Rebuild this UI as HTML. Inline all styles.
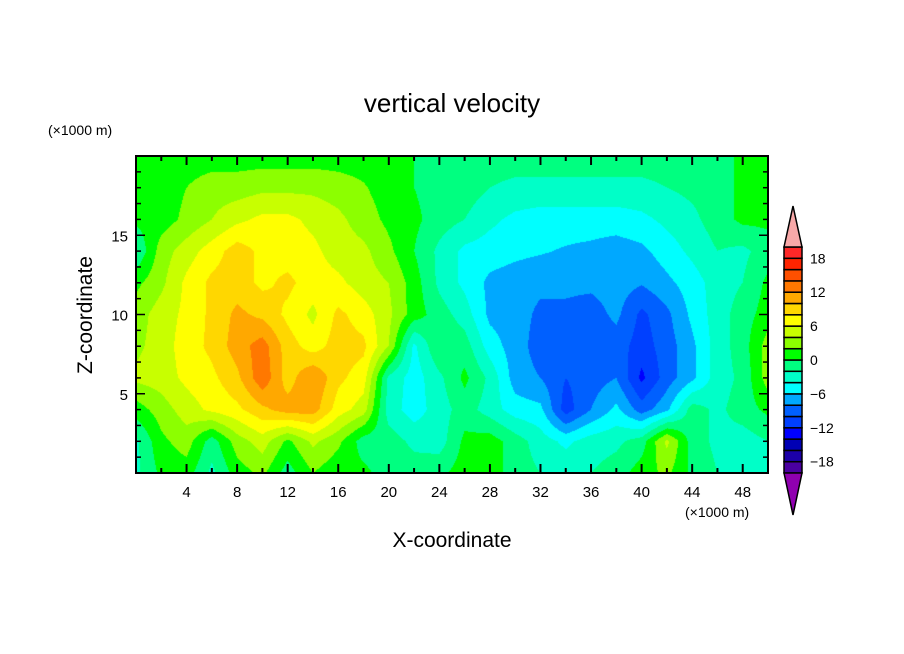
<!DOCTYPE html>
<html><head><meta charset="utf-8"><style>
body{margin:0;background:#fff;}
#wrap{position:relative;width:904px;height:654px;overflow:hidden;font-family:"Liberation Sans",sans-serif;}
</style></head><body>
<div id="wrap">
<canvas id="cv" width="632" height="317" style="position:absolute;left:136px;top:156px;"></canvas>
<svg id="sv" width="904" height="654" style="position:absolute;left:0;top:0;"></svg>
</div>
<script>
// data grid: x = 0..50 step 2 (26 cols), z = 20..0 step 2 (rows, top to bottom)
const xs = [0,2,4,6,8,10,12,14,16,18,20,22,24,26,28,30,32,34,36,38,40,42,44,46,48,50];
const zs = [20,18,16,14,12,10,8,6,4,2,0];
const row20 = [1,1,1,1,1,1,1,1,1,1,1,0,-1,-1,-1,-1,-1,-1,-1,-1,-1,-1,-1,-1,0.5,1];
const row18 = [1,1,2,3,3,3.5,3.5,3.5,3,2.2,1,0,-1,-1,-2,-2.5,-2.5,-2.5,-2.5,-2.5,-2.5,-2,-1.5,-1,0.5,1];
const row16 = [0.5,1,2.5,4,5.5,6.5,6.5,5.5,4.5,3,1.5,0.5,-1,-2,-3.5,-4.5,-5,-5,-5,-5,-4.5,-3.5,-2.5,-1,0.5,0.5];
const row14 = [-2,3,5,7,9,7.5,7,6.5,5,4.5,2.5,0,-2.5,-4.5,-5,-5.5,-5.8,-6.2,-6.5,-7,-6.5,-5,-3.5,-2,-2.5,-1];
const row12 = [1.5,3.5,6.5,8.5,9,7.5,8.5,7,6.5,5,4,1,-2.5,-4.5,-6.5,-7,-7.5,-7.5,-7.5,-7,-7.8,-6.5,-5,-3,-2,0.5];
const row10 = [3,5,6.5,8.5,10.5,9.5,7.5,5.5,8.5,7,4.5,1,-1,-3,-6.5,-7,-8.5,-8.5,-9,-7.5,-10.5,-8.5,-5.5,-3,-1,1];
const row8  = [3.5,5,7,8.5,11,13,9,7,9,8.5,4,-4.5,0,-1,-5,-7,-9,-9.5,-9.5,-9,-11,-9,-6.5,-3,-1,3];
const row6  = [4.5,5,6.5,7.5,9.5,13.5,9,12,8.5,7,-2.5,-5,-2.5,0.5,-2.5,-7,-8,-10,-9,-8,-12.5,-9,-6.5,-3,-1.5,3];
const row4  = [1,3,5,6.5,7.5,9.5,11,11,7,5,-3,-5,-3,-1,-3,-5,-5.5,-11,-8,-5.5,-9,-6.5,-1,-2.5,-1,0.5];
const row2  = [-2.5,1.5,3,-1,3,5,1.5,4.5,2.5,-1,-1,-2.5,-3,0.5,1,-1,-3,-4.5,-3,-2.5,-1,4.5,-1,-2.5,-3,-2];
const row0  = [-2.5,0.5,1,-2.5,1,2.5,-1,2,0.5,0.5,-1,-1,-0.5,1,1,-1,-2,-2.5,-2,-1,1,2.5,-0.5,-2,-2,-2];
const grid = [row20,row18,row16,row14,row12,row10,row8,row6,row4,row2,row0];
const levels = [-20,-18,-16,-14,-12,-10,-8,-6,-4,-2,0,2,4,6,8,10,12,14,16,18,20];
const colorbarLabels = [18,12,6,0,-6,-12,-18];
const bandColors = ["#9000b0","#4a00a0","#1c00a8","#0000b4","#0000ff","#0040ff","#0060ff","#00a8ff","#00ffff","#00ffc8","#00ff80","#00ff00","#8cff00","#c8ff00","#ffff00","#ffd700","#ffa800","#ff7800","#ff5000","#ff2400","#ff2828","#f8a8a8"];
const xTicks = [4,8,12,16,20,24,28,32,36,40,44,48];
const zTicks = [5,10,15];

const PL=136,PT=156,PW=632,PH=317, XMIN=0,XMAX=50,ZMIN=0,ZMAX=20;
const sx = v => PL + (v-XMIN)/(XMAX-XMIN)*PW;
const sz = v => PT + PH - (v-ZMIN)/(ZMAX-ZMIN)*PH;
function band(v){let i=0;while(i<levels.length && v>=levels[i]) i++;return i;}
function hex(c){return [parseInt(c.substr(1,2),16),parseInt(c.substr(3,2),16),parseInt(c.substr(5,2),16)];}
const rgb = bandColors.map(hex);
function sample(x,z){
  let fx=(x-xs[0])/(xs[1]-xs[0]); let fz=(zs[0]-z)/(zs[0]-zs[1]);
  fx=Math.max(0,Math.min(xs.length-1.0001,fx)); fz=Math.max(0,Math.min(zs.length-1.0001,fz));
  const i=Math.floor(fx), j=Math.floor(fz), tx=fx-i, tz=fz-j;
  const a=grid[j][i],b=grid[j][i+1],c=grid[j+1][i],d=grid[j+1][i+1];
  return (a*(1-tx)+b*tx)*(1-tz)+(c*(1-tx)+d*tx)*tz;
}
const cv=document.getElementById('cv'),ctx=cv.getContext('2d');
const img=ctx.createImageData(PW,PH);
for(let py=0;py<PH;py++){for(let px=0;px<PW;px++){
  const x=XMIN+(px+0.5)/PW*(XMAX-XMIN), z=ZMAX-(py+0.5)/PH*(ZMAX-ZMIN);
  const c=rgb[band(sample(x,z))]; const k=(py*PW+px)*4;
  img.data[k]=c[0];img.data[k+1]=c[1];img.data[k+2]=c[2];img.data[k+3]=255;}}
ctx.putImageData(img,0,0);

const NS='http://www.w3.org/2000/svg', sv=document.getElementById('sv');
function mk(t,a,txt){const e=document.createElementNS(NS,t);for(const k in a)e.setAttribute(k,a[k]);if(txt!==undefined)e.textContent=txt;sv.appendChild(e);return e;}
let e;
e=mk('rect',{x:PL,y:PT,width:PW,height:PH,fill:'none',stroke:'#000','stroke-width':2});


for(let v=2;v<50;v+=2){const L=(v%4===0)?9:5;
  e=mk('line',{x1:sx(v),x2:sx(v),y1:PT+PH,y2:PT+PH-L,stroke:'#000','stroke-width':2});
  
  
  e=mk('line',{x1:sx(v),x2:sx(v),y1:PT,y2:PT+L,stroke:'#000','stroke-width':2});
  
  }
for(let v=1;v<20;v++){const L=(v%5===0)?9:5;
  e=mk('line',{x1:PL,x2:PL+L,y1:sz(v),y2:sz(v),stroke:'#000','stroke-width':1.5});
  
  
  e=mk('line',{x1:PL+PW,x2:PL+PW-L,y1:sz(v),y2:sz(v),stroke:'#000','stroke-width':1.5});
  
  }
xTicks.forEach(v=>{e=mk('text',{x:sx(v),y:497,'font-size':15,'text-anchor':'middle'},String(v));
  
  });
zTicks.forEach(v=>{e=mk('text',{x:128,y:sz(v)+6,'font-size':15,'text-anchor':'end'},String(v));
  
  });
e=mk('text',{x:452,y:112,'font-size':26,'text-anchor':'middle'},'vertical velocity');


e=mk('text',{x:452,y:547,'font-size':21,'text-anchor':'middle'},'X-coordinate');


e=mk('text',{x:0,y:0,'font-size':21,'text-anchor':'middle',transform:'translate(92,315) rotate(-90)'},'Z-coordinate');


e=mk('text',{x:48,y:135,'font-size':14},'(×1000 m)');


e=mk('text',{x:685,y:517,'font-size':14},'(×1000 m)');


// colorbar
const CBX=784,CBW=18,CBT=247,CBB=473,nb=levels.length-1,bh=(CBB-CBT)/nb;
const cy=v=>CBB-(v-levels[0])/(levels[levels.length-1]-levels[0])*(CBB-CBT);
for(let i=0;i<nb;i++){
  e=mk('rect',{x:CBX,y:cy(levels[i+1]),width:CBW,height:bh,fill:bandColors[i+1],stroke:'#000','stroke-width':1.5});
  
  }
e=mk('polygon',{points:`${CBX},${CBT} ${CBX+CBW},${CBT} ${CBX+CBW/2},206`,fill:bandColors[bandColors.length-1],stroke:'#000','stroke-width':1.5});


e=mk('polygon',{points:`${CBX},${CBB} ${CBX+CBW},${CBB} ${CBX+CBW/2},515`,fill:bandColors[0],stroke:'#000','stroke-width':1.5});


colorbarLabels.forEach(v=>{e=mk('text',{x:810,y:cy(v)+5,'font-size':14},String(v).replace('-','\u2212'));
  
  });
</script>
</body></html>
